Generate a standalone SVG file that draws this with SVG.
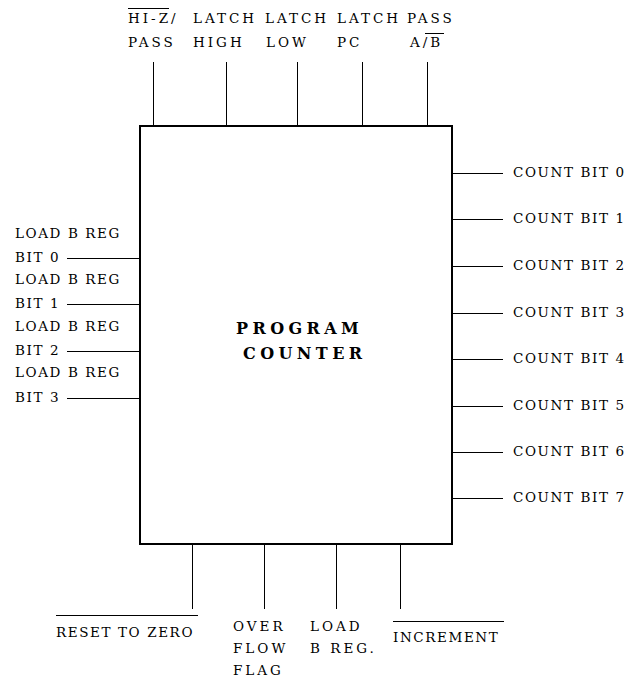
<svg xmlns="http://www.w3.org/2000/svg" width="627" height="679" viewBox="0 0 627 679">
<style>
text{font-family:"DejaVu Serif","Liberation Serif",serif;font-size:13.5px;fill:#000}
.w{letter-spacing:3px}
.n{letter-spacing:1.6px}
.b{font-weight:bold;font-size:16px;letter-spacing:4.4px}
.ln{stroke:#000;stroke-width:1;fill:none}
.box{stroke:#000;stroke-width:2;fill:#fff}
</style>
<rect width="627" height="679" fill="#fff"/>
<g id="connectors">
<path class="ln" d="M153.5 62V126M226.5 62V126M297.5 62V126M362.5 62V126M427.5 62V126"/>
<path class="ln" d="M67 258.5H140M67 304.5H140M67 351.5H140M67 398.5H140"/>
<path class="ln" d="M452 173.5H503M452 219.5H503M452 266.5H503M452 313.5H503M452 359.5H503M452 406.5H503M452 452.5H503M452 498.5H503"/>
<path class="ln" d="M192.5 544V609M264.5 544V609M336.5 544V609M400.5 544V609"/>
</g>
<g id="program-counter">
<rect class="box" x="140" y="126" width="312" height="418"/>
<text class="b" x="236" y="334">PROGRAM</text>
<text class="b" x="243" y="359">COUNTER</text>
</g>
<g id="top-labels">
<text class="w" x="128" y="23">HI-Z/</text><path class="ln" d="M128 8.5H169"/>
<text class="w" x="128" y="47">PASS</text>
<text class="w" x="193" y="23">LATCH</text>
<text class="w" x="193" y="47">HIGH</text>
<text class="w" x="265" y="23">LATCH</text>
<text class="w" x="266" y="47">LOW</text>
<text class="w" x="337" y="23">LATCH</text>
<text class="w" x="337" y="47">PC</text>
<text class="w" x="407" y="23">PASS</text>
<text class="w" x="410" y="47">A/B</text><path class="ln" d="M425 33.5H444"/>
</g>
<g id="left-labels">
<text class="n" x="15" y="238">LOAD B REG</text>
<text class="n" x="15" y="262">BIT 0</text>
<text class="n" x="15" y="284">LOAD B REG</text>
<text class="n" x="15" y="308">BIT 1</text>
<text class="n" x="15" y="331">LOAD B REG</text>
<text class="n" x="15" y="355">BIT 2</text>
<text class="n" x="15" y="377">LOAD B REG</text>
<text class="n" x="15" y="402">BIT 3</text>
</g>
<g id="right-labels">
<text class="n" x="513" y="177">COUNT BIT 0</text>
<text class="n" x="513" y="223">COUNT BIT 1</text>
<text class="n" x="513" y="270">COUNT BIT 2</text>
<text class="n" x="513" y="317">COUNT BIT 3</text>
<text class="n" x="513" y="363">COUNT BIT 4</text>
<text class="n" x="513" y="410">COUNT BIT 5</text>
<text class="n" x="513" y="456">COUNT BIT 6</text>
<text class="n" x="513" y="502">COUNT BIT 7</text>
</g>
<g id="bottom-labels">
<path class="ln" d="M56 615.5H198"/>
<text class="n" x="56" y="637">RESET TO ZERO</text>
<text class="w" x="233" y="631">OVER</text>
<text class="w" x="233" y="653">FLOW</text>
<text class="w" x="233" y="675">FLAG</text>
<text class="w" x="310" y="631">LOAD</text>
<text class="w" x="310" y="653">B REG.</text>
<path class="ln" d="M393 621.5H504"/>
<text class="n" x="393" y="642">INCREMENT</text>
</g>
</svg>
